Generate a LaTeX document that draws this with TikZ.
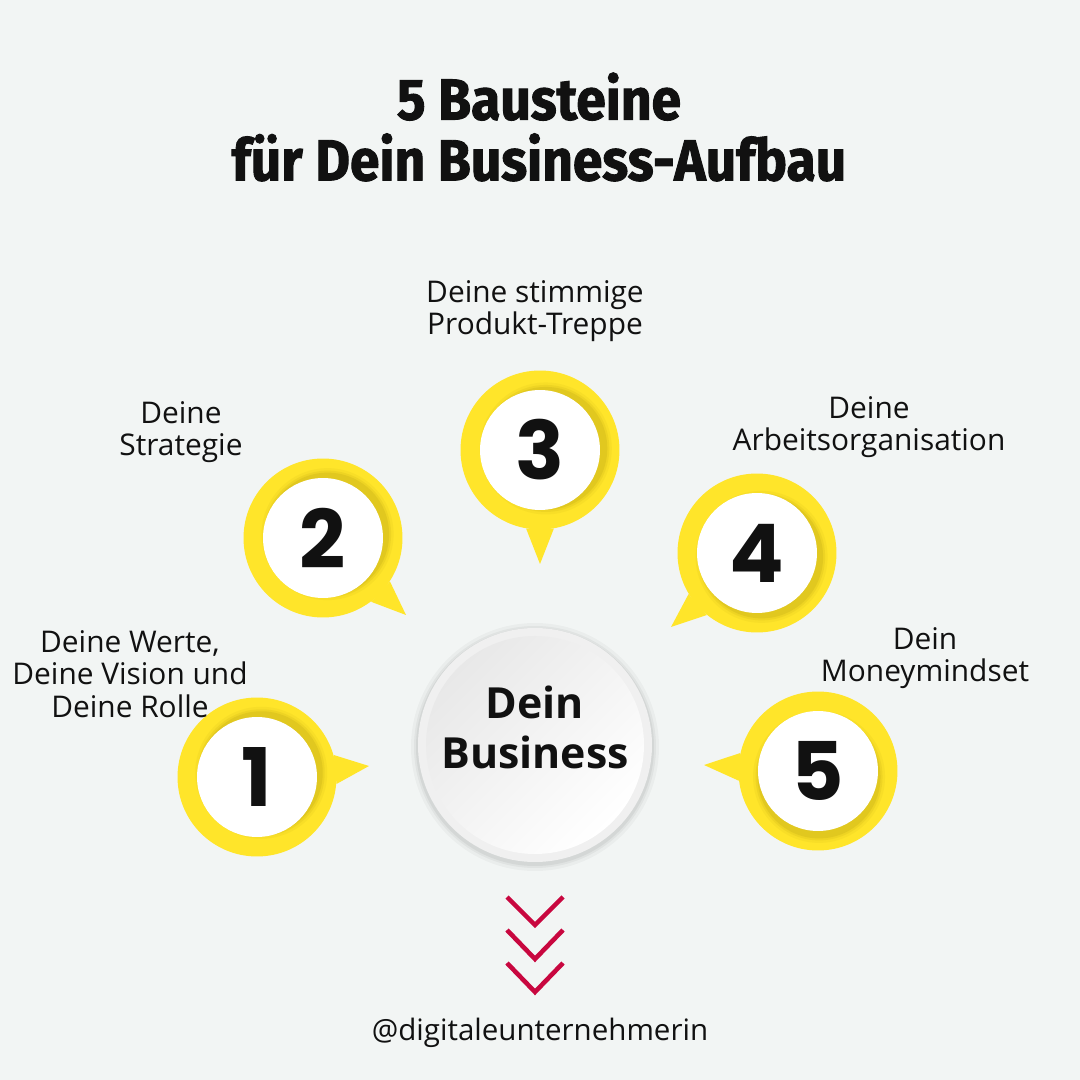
\documentclass[tikz,border=0pt]{standalone}
\usepackage{fontspec}
\setmainfont{Open Sans}
\newfontfamily\titlefont[FakeStretch=0.92,FakeBold=1.6]{Fira Sans}
\newfontfamily\numfont{Poppins}
\usetikzlibrary{calc}

\definecolor{paper}{HTML}{F2F5F4}
\definecolor{bsyellow}{HTML}{FFE52A}
\definecolor{bsshade}{HTML}{A8920E}
\definecolor{ink}{HTML}{111111}
\definecolor{chevred}{HTML}{C8073F}

% soft shadow of a white face on its yellow ring
\newcommand{\ringshadow}[2]{%
  \foreach \rad/\op in {66/.08,63.5/.12,61.5/.18}
    \fill[bsshade, opacity=\op] ($(#1)+(#2:6)$) circle (\rad);}

\tikzset{
  ring/.style={circle, fill=bsyellow, minimum size=3.18cm, inner sep=0pt},
  face/.style={circle, fill=white, minimum size=2.4cm, inner sep=0pt,
    font=\numfont\bfseries\fontsize{46}{46}\selectfont, text=ink},
  caption/.style={font=\fontsize{17}{18.6}\selectfont, text=ink, align=center},
  chevron/.style={draw=chevred, line width=2.6pt, line join=miter},
}

\begin{document}
\begin{tikzpicture}[x=0.02cm, y=0.02cm]
  \fill[paper] (0,0) rectangle (1080,1080);
  \useasboundingbox (0,0) rectangle (1080,1080);

  \node[font=\titlefont\bfseries\fontsize{33}{34.6}\selectfont, text=ink, align=center]
    (title) at (539,953) {5 Bausteine\\für Dein Business-Aufbau};

  % centre
  \node[circle, minimum size=4.68cm, inner sep=0pt] (hub) at (535,335) {};
  \foreach \rad/\op in {124/.03,121/.04,119/.05}
    \fill[black, opacity=\op] ($(hub)+(-90:2)$) circle (\rad);
  \fill[black!6] (hub) circle (117);
  \shade[top color=black!9, bottom color=white, shading angle=45] (hub) circle (109);
  \node[font=\bfseries\fontsize{24.4}{28.4}\selectfont, text=ink, align=center]
    (core) at (535,353) {Dein\\Business};

  % rings with their pointers
  \node[ring] (r1) at (257,303) {};
  \node[ring] (r2) at (323,542) {};
  \node[ring] (r3) at (540,630) {};
  \node[ring] (r4) at (757,527) {};
  \node[ring] (r5) at (818,309) {};
  \coordinate (t1) at (369,314);
  \coordinate (t2) at (406,465);
  \coordinate (t3) at (540,516);
  \coordinate (t4) at (671,453);
  \coordinate (t5) at (704,315);
  \fill[bsyellow] (r1.16) -- (t1) -- (r1.-5) -- cycle;
  \fill[bsyellow] (r2.-33) -- (t2) -- (r2.-53) -- cycle;
  \fill[bsyellow] (r3.-80) -- (t3) -- (r3.-100) -- cycle;
  \fill[bsyellow] (r4.211) -- (t4) -- (r4.231) -- cycle;
  \fill[bsyellow] (r5.167) -- (t5) -- (r5.187) -- cycle;
  \ringshadow{r1}{45}
  \ringshadow{r2}{40}
  \ringshadow{r3}{15}
  \ringshadow{r4}{-40}
  \ringshadow{r5}{-80}
  \node[face] (f1) at (r1) {1};
  \node[face] (f2) at (r2) {2};
  \node[face] (f3) at (r3) {3};
  \node[face] (f4) at (r4) {4};
  \node[face] (f5) at (r5) {5};

  % captions
  \node[caption] (c1) at (130,406) {Deine Werte,\\Deine Vision und\\Deine Rolle};
  \node[caption] (c2) at (181,648) {Deine\\Strategie};
  \node[caption] (c3) at (535,769) {Deine stimmige\\Produkt-Treppe};
  \node[caption] (c4) at (869,653) {Deine\\Arbeitsorganisation};
  \node[caption] (c5) at (925,422) {Dein\\Moneymindset};

  % scroll hint
  \draw[chevron] (507,183) -- (535,155) -- (563,183);
  \draw[chevron] (507,150) -- (535,121) -- (563,150);
  \draw[chevron] (507,117) -- (535,88) -- (563,117);

  \node[caption, font=\fontsize{16.8}{18.6}\selectfont] (handle) at (540,47) {@digitaleunternehmerin};
\end{tikzpicture}
\end{document}
